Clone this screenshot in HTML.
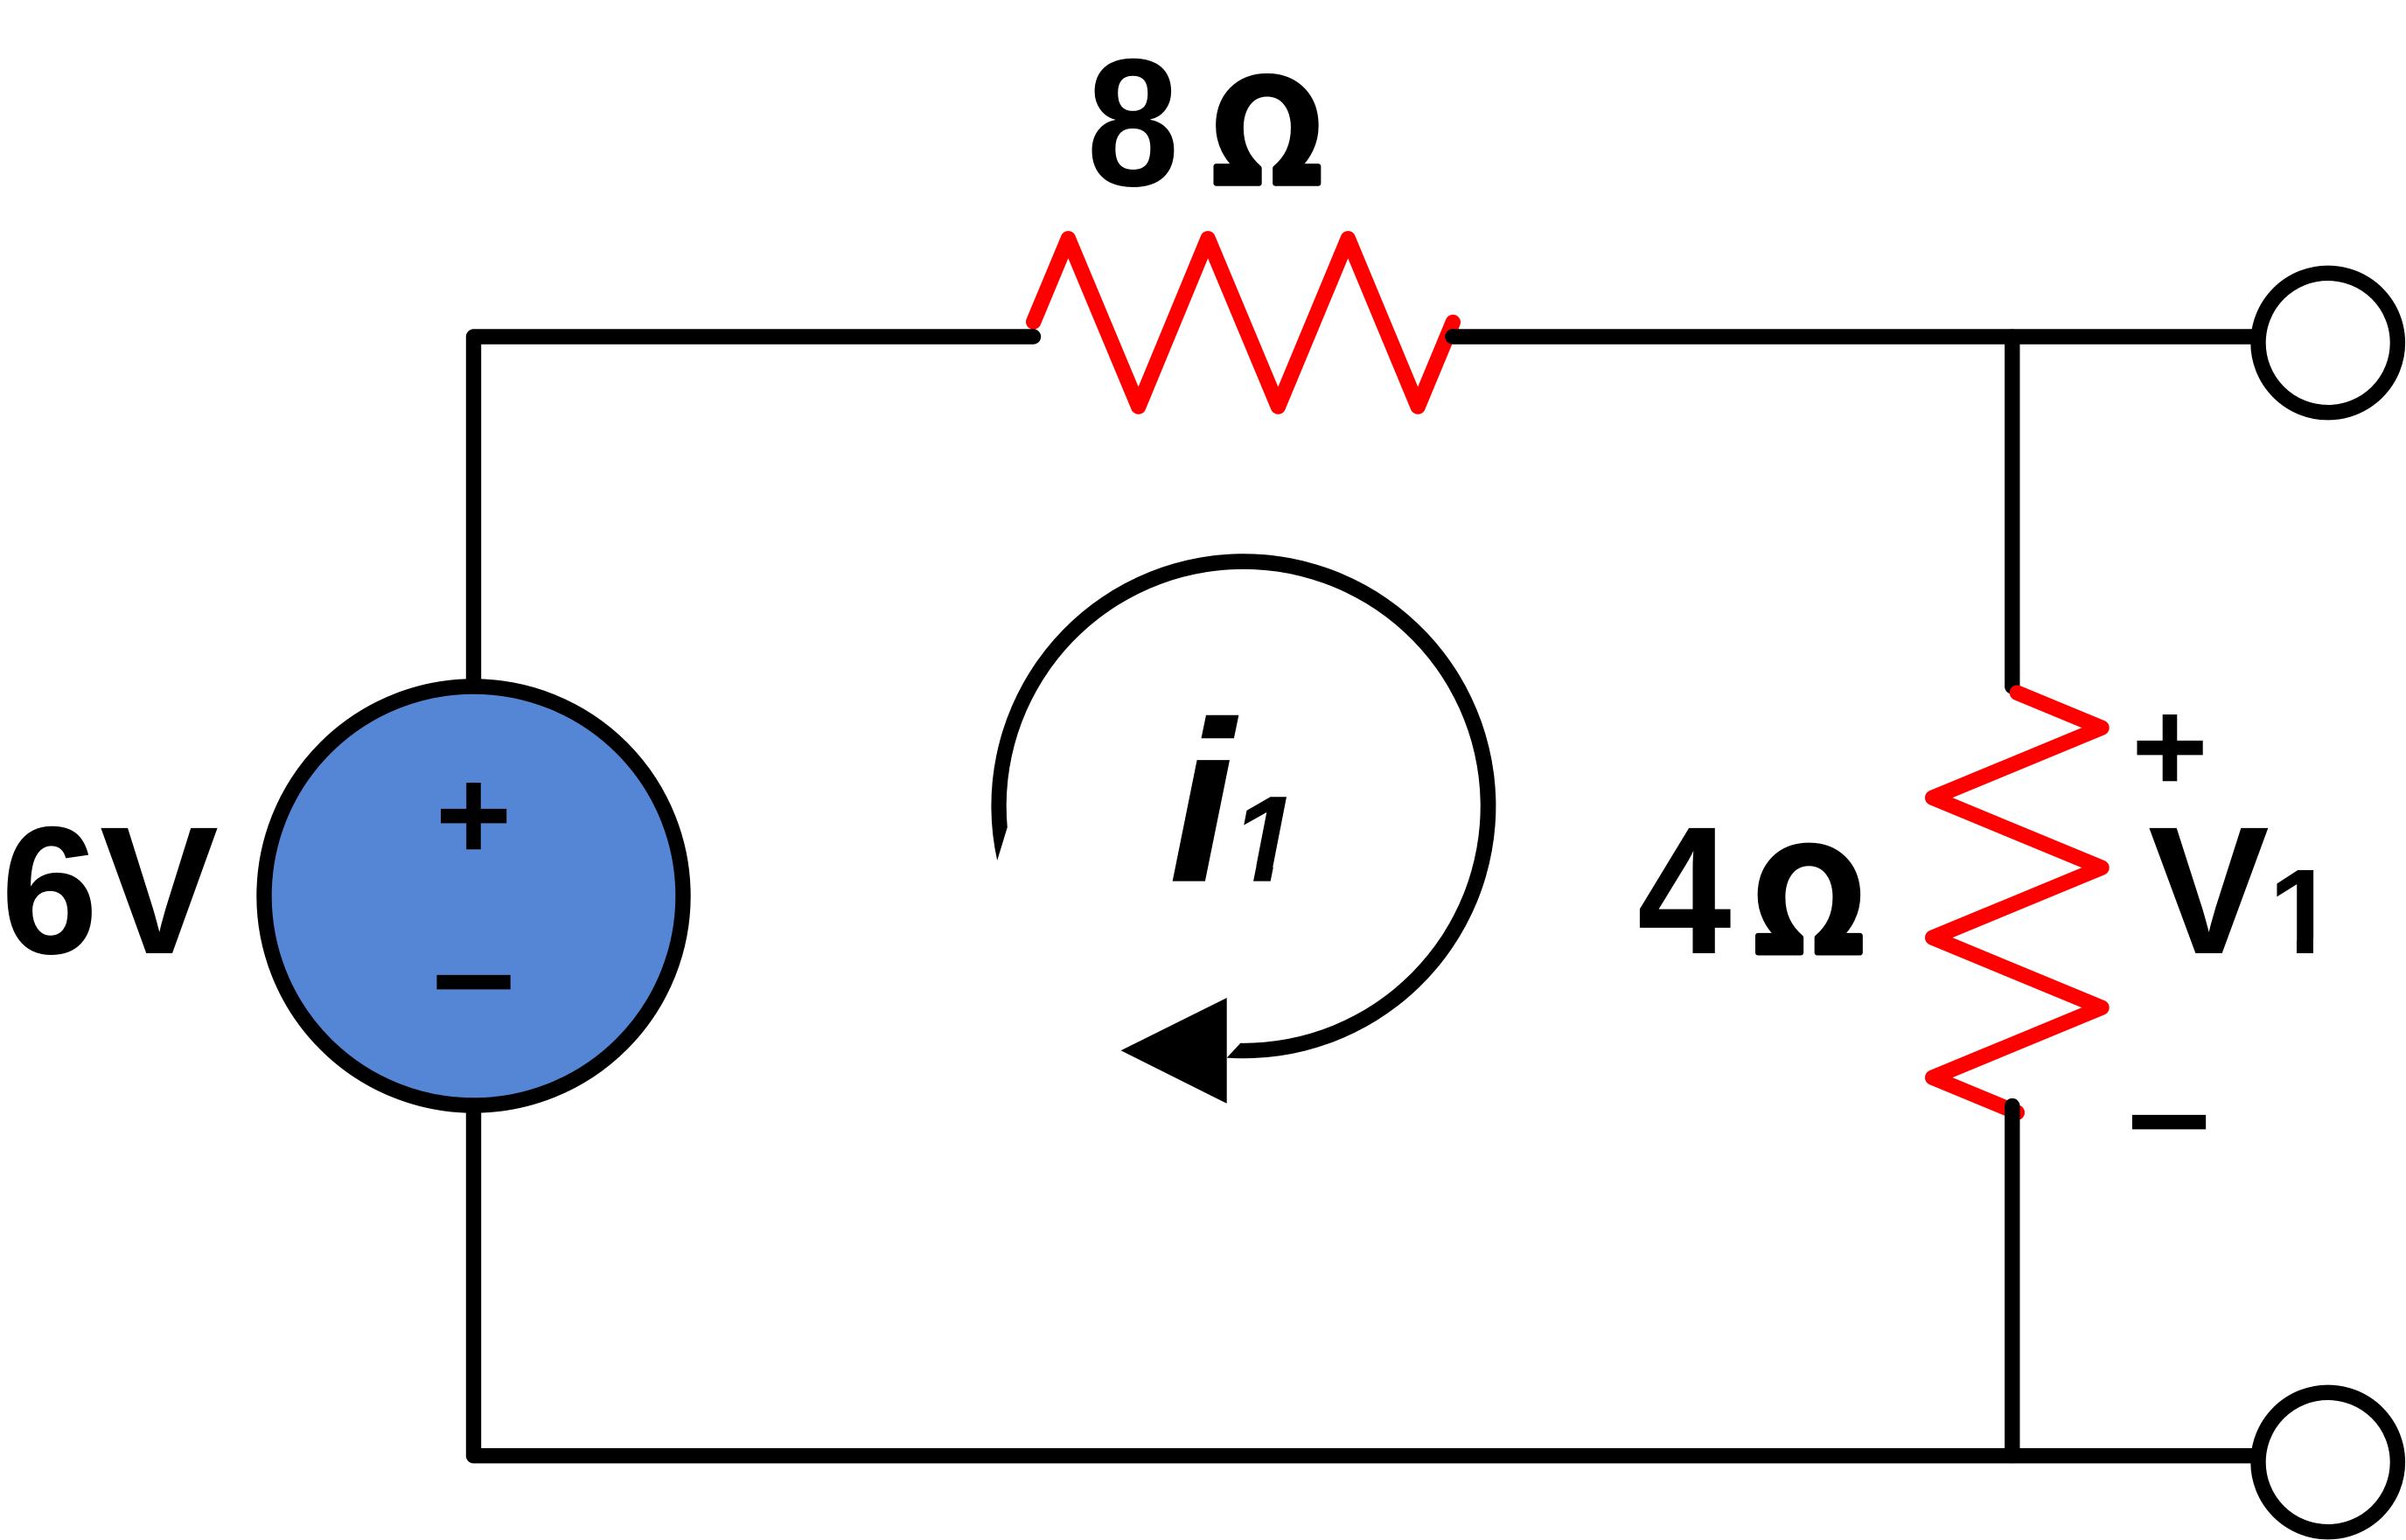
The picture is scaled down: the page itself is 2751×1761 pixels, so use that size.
<!DOCTYPE html>
<html><head><meta charset="utf-8"><style>
html,body{margin:0;padding:0;background:#fff}
svg{display:block}
text{font-family:"Liberation Sans",sans-serif;font-weight:bold;fill:#000}
text.n{font-family:"Noto Sans CJK JP","Liberation Sans",sans-serif;stroke:#000;stroke-width:6;stroke-linejoin:round}
</style></head><body>
<svg width="2751" height="1761" viewBox="0 0 2751 1761" xmlns="http://www.w3.org/2000/svg">
<defs>
<clipPath id="c1"><polygon points="2590,980 2670,980 2670,1073 2645,1073 2645,1095 2626,1095 2626,1073 2590,1073"/></clipPath>
<clipPath id="c2"><polygon points="1400,900 1500,900 1500,990 1456.2,990 1452.2,1010 1432.6,1010 1436.6,990 1400,990"/></clipPath>
</defs>
<rect width="2751" height="1761" fill="#fff"/>
<path d="M2300.8 385V785" stroke="#000" stroke-width="17.4" fill="none" stroke-linecap="round"/>
<g fill="none" stroke="#f00" stroke-width="17.4" stroke-linecap="round" stroke-linejoin="round">
<polyline points="1181.7,368 1221.4,272.8 1301.7,465 1381.1,272.8 1461.4,465 1541.3,272.8 1621.2,465 1661.3,368.5"/>
<polyline points="2306.4,792.2 2403,832.2 2209.7,912.2 2403,992.2 2209.7,1072.2 2403,1152.2 2209.7,1232.2 2306.3,1272.2"/>
</g>
<g fill="none" stroke="#000" stroke-width="17.4" stroke-linecap="round" stroke-linejoin="round">
<path d="M541.5 790V385H1181.5"/>
<path d="M541.5 1260V1664.7H2580"/>
<path d="M1661 385H2580"/>
<path d="M2300.8 1264.6V1664.7"/>
</g>
<circle cx="541.5" cy="1024.5" r="239.5" fill="#5586d5" stroke="#000" stroke-width="17.4"/>
<circle cx="2661.7" cy="392" r="79.7" fill="#fff" stroke="#000" stroke-width="17.4"/>
<circle cx="2661.7" cy="1672" r="79.7" fill="#fff" stroke="#000" stroke-width="17.4"/>
<path d="M1418.4 1192.8A271 271 0 1 0 1151.8 946L1140.2 984A288.5 288.5 0 1 1 1402.7 1209.6Z" fill="#000"/>
<polygon points="1281.6,1201.2 1402.7,1141 1402.7,1261.8" fill="#000"/>
<text transform="translate(1242.5 212) scale(.95 1.04)" font-size="200">8</text>
<text class="n" transform="translate(1382 209.7) scale(1.03 1)" font-size="163">Ω</text>
<text transform="translate(1 1090) scale(.96 1)" font-size="208">6</text>
<text transform="translate(114 1090) scale(.98 1)" font-size="208">V</text>
<text transform="translate(1872 1090) scale(.93 1)" font-size="208">4</text>
<text class="n" transform="translate(2001.5 1089.5) scale(1.03 1)" font-size="163">Ω</text>
<text x="2456" y="1090" font-size="208">V</text>
<g clip-path="url(#c1)"><text x="2594" y="1090" font-size="138">1</text></g>
<text transform="translate(1336 1007.6) scale(1.04 1)" font-size="262" font-style="italic">i</text>
<g clip-path="url(#c2)"><text x="1407" y="1007.6" font-size="140" font-style="italic">1</text></g>
<text x="541.5" y="983" font-size="150" text-anchor="middle">+</text>
<text transform="translate(541.5 1173) scale(1.12 1)" font-size="150" text-anchor="middle">−</text>
<text x="2481" y="905" font-size="150" text-anchor="middle">+</text>
<text transform="translate(2480 1333) scale(1.12 1)" font-size="150" text-anchor="middle">−</text>
</svg>
</body></html>
